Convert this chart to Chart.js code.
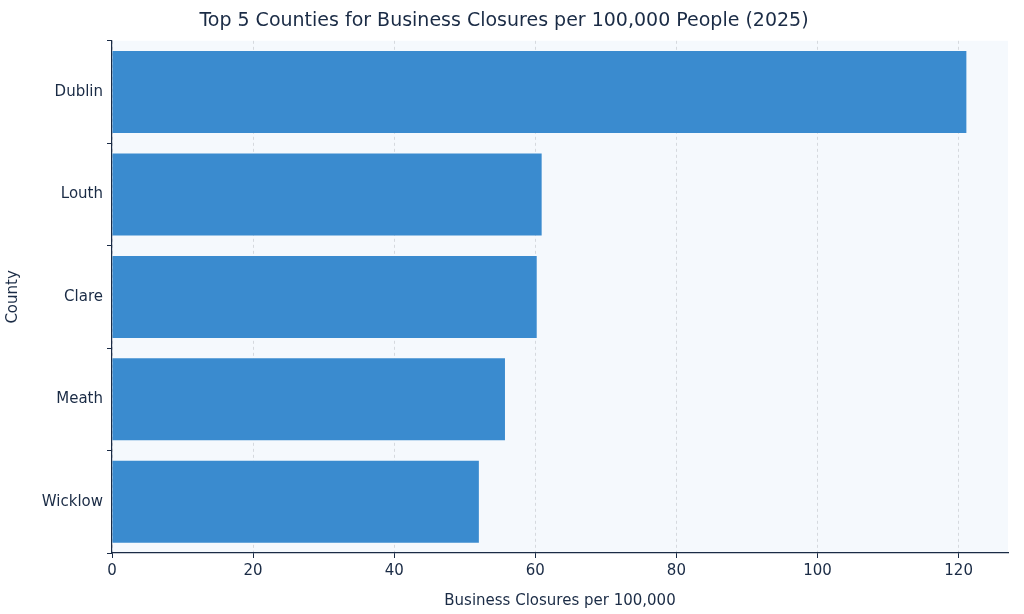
<!DOCTYPE html>
<html>
<head>
<meta charset="utf-8">
<script src="https://cdn.jsdelivr.net/npm/chart.js@4"></script>
<style>
  html, body { margin: 0; padding: 0; background: #fff; }
  #wrap { width: 1024px; height: 614px; }
</style>
</head>
<body>
<div id="wrap"><canvas id="chart"></canvas></div>
<script>
const counties = ["Dublin", "Louth", "Clare", "Meath", "Wicklow"];
const closures = [121.1, 60.9, 60.2, 55.7, 52.0];
const xTicks = [0, 20, 40, 60, 80, 100, 120];

const textColor = "#1a2b45";

// light panel behind the plot area
const panelBg = {
  id: "panelBg",
  beforeDraw(chart) {
    const a = chart.chartArea, ctx = chart.ctx;
    ctx.save();
    ctx.fillStyle = "#f5f9fd";
    ctx.fillRect(a.left, a.top, a.right - a.left, a.bottom - a.top);
    ctx.restore();
  }
};

new Chart(document.getElementById("chart"), {
  type: "bar",
  data: {
    labels: counties,
    datasets: [{
      data: closures,
      backgroundColor: "#3a8bcf",
      barPercentage: 0.8,
      categoryPercentage: 1.0
    }]
  },
  plugins: [panelBg],
  options: {
    indexAxis: "y",
    responsive: true,
    maintainAspectRatio: false,
    animation: false,
    layout: { padding: { left: 0, right: 16, top: 0, bottom: 0 } },
    plugins: {
      legend: { display: false },
      tooltip: { enabled: false },
      title: {
        display: true,
        text: "Top 5 Counties for Business Closures per 100,000 People (2025)",
        color: textColor,
        font: { family: "DejaVu Sans", size: 19, weight: "normal" },
        padding: { top: 10, bottom: 8 }
      }
    },
    scales: {
      x: {
        min: 0,
        max: 127,
        afterBuildTicks(scale) { scale.ticks = xTicks.map(v => ({ value: v })); },
        afterFit(scale) { scale.height = 61; },
        ticks: { color: textColor, font: { family: "DejaVu Sans", size: 15 }, padding: 4 },
        grid: {
          color: "#d5d9de",
          tickColor: textColor,
          tickLength: 5,
          drawOnChartArea: true
        },
        border: { color: textColor, width: 1.2, dash: [3, 3] },
        title: {
          display: true,
          text: "Business Closures per 100,000",
          color: textColor,
          font: { family: "DejaVu Sans", size: 15 },
          padding: { top: 0 }
        }
      },
      y: {
        afterFit(scale) { scale.width = 112; },
        ticks: { color: textColor, font: { family: "DejaVu Sans", size: 15 }, padding: 4 },
        grid: { display: true, drawOnChartArea: false, tickColor: textColor, tickLength: 5 },
        border: { color: textColor, width: 1.2 },
        title: {
          display: true,
          text: "County",
          color: textColor,
          font: { family: "DejaVu Sans", size: 15 }
        }
      }
    }
  }
});
</script>
</body>
</html>
